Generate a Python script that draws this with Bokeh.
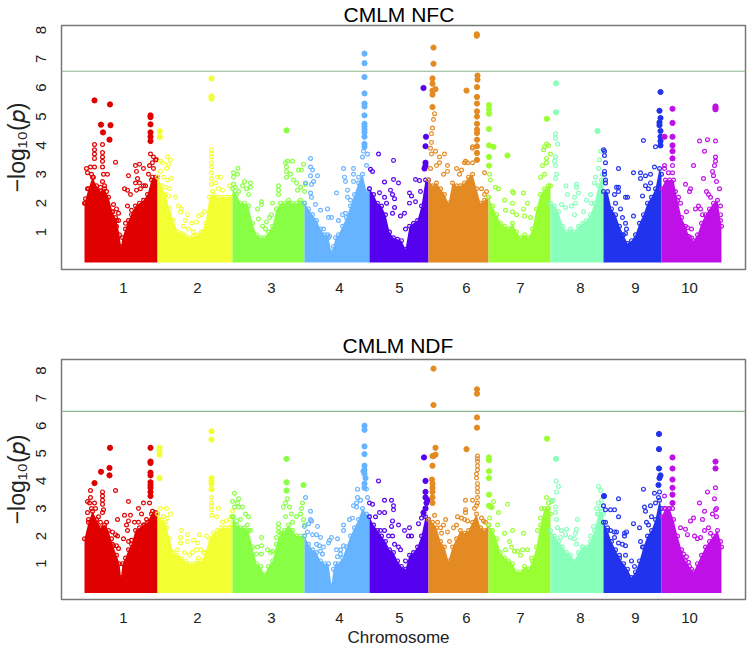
from bokeh.plotting import figure
from bokeh.layouts import column
from bokeh.models import Span, FixedTicker, Range1d, Title
from bokeh.embed import file_html
from bokeh.resources import INLINE

CHR_LABELS = ["1", "2", "3", "4", "5", "6", "7", "8", "9", "10"]
CHR_LABEL_POS = [123, 197, 271, 339, 399, 466, 520, 580, 635, 689]
CHR_COLORS = ["#E00000", "#F2FF33", "#88FF44", "#66B3FF", "#5500EE",
              "#E38A22", "#99FF33", "#88FFBB", "#2233EE", "#C010E8"]
THRESHOLD_NFC = 6.57
THRESHOLD_NDF = 6.52

# Position of the samples of the dense lower body of each chromosome
ENV_POS_1 = [84, 88, 92, 96, 100, 104, 108, 112, 116, 119, 120.5, 122, 125, 128, 131, 135, 139, 143, 147, 151, 155, 157]
ENV_POS_2 = [157, 161, 165, 169, 173, 177, 181, 185, 189, 193, 197, 201, 205, 209, 213, 217, 221, 225, 229, 232]
ENV_POS_3 = [232, 236, 240, 244, 248, 252, 256, 260, 264, 268, 272, 276, 280, 284, 288, 292, 296, 300, 304]
ENV_POS_4 = [304, 308, 312, 316, 320, 324, 328, 331, 333, 335, 338, 342, 346, 350, 354, 358, 362, 366, 369]
ENV_POS_5 = [369, 373, 377, 381, 385, 389, 393, 397, 401, 405, 409, 413, 417, 421, 425, 428]
ENV_POS_6 = [428, 432, 436, 440, 444, 448, 452, 456, 460, 464, 468, 472, 476, 480, 484, 488]
ENV_POS_7 = [488, 492, 496, 500, 504, 508, 512, 516, 520, 524, 528, 532, 536, 540, 544, 548, 550]
ENV_POS_8 = [550, 554, 558, 562, 566, 570, 574, 578, 582, 586, 590, 594, 598, 601, 603]
ENV_POS_9 = [603, 607, 611, 615, 619, 623, 627, 631, 635, 639, 643, 647, 651, 655, 659, 661]
ENV_POS_10 = [661, 665, 669, 673, 677, 681, 685, 689, 693, 697, 701, 705, 709, 713, 717, 720, 721]

# Upper limit of the dense body, panel NFC
NFC_ENV_1 = [2.0, 2.5, 2.9, 2.6, 2.4, 2.5, 2.2, 1.7, 1.4, 0.9, 0.5, 0.8, 1.1, 1.4, 1.6, 1.9, 2.0, 2.1, 2.3, 2.8, 2.9, 2.9]
NFC_ENV_2 = [2.9, 2.6, 2.3, 1.8, 1.4, 1.0, .95, .85, .8, .85, .9, 1.0, 1.3, 2.2, 2.3, 2.2, 2.2, 2.2, 2.2, 2.2]
NFC_ENV_3 = [2.5, 2.3, 2.0, 2.0, 1.9, 1.3, .9, .8, .8, 1.0, 1.2, 1.8, 2.0, 2.0, 2.1, 2.0, 2.0, 2.1, 2.0]
NFC_ENV_4 = [2.0, 1.8, 1.6, 1.4, 1.1, .9, .8, .3, .5, .8, .9, 1.2, 1.5, 1.9, 2.3, 2.7, 3.0, 2.4, 2.5]
NFC_ENV_5 = [2.5, 2.3, 2.0, 1.9, 1.6, 1.0, .8, .75, .7, .4, 1.2, 1.3, 1.4, 1.9, 2.8, 2.8]
NFC_ENV_6 = [2.8, 2.6, 2.7, 2.5, 2.3, 2.0, 2.7, 2.6, 2.6, 2.7, 2.9, 3.0, 2.5, 2.0, 2.1, 2.2]
NFC_ENV_7 = [2.2, 1.9, 1.6, 1.3, 1.2, 1.1, 1.3, 1.0, .8, .9, .8, 1.1, 1.8, 2.3, 2.5, 2.6, 2.6]
NFC_ENV_8 = [2.0, 1.9, 1.7, 1.2, 1.0, 1.1, 1.0, 1.2, 1.3, 1.4, 1.6, 2.0, 2.6, 2.8, 2.8]
NFC_ENV_9 = [2.4, 2.4, 1.8, 1.6, 1.2, .9, .6, .7, .9, 1.3, 1.6, 2.0, 2.2, 2.5, 3.2, 3.0]
NFC_ENV_10 = [2.5, 2.8, 2.8, 2.8, 2.1, 1.5, 1.2, .8, .7, .9, 1.3, 1.6, 1.8, 2.0, 2.1, 1.4, 1.2]

# Upper limit of the dense body, panel NDF
NDF_ENV_1 = [1.9, 2.5, 2.9, 2.6, 2.3, 2.4, 2.2, 1.7, 1.3, 1.0, .5, 1.0, 1.2, 1.5, 1.7, 2.2, 2.3, 2.4, 2.5, 2.8, 2.8, 2.8]
NDF_ENV_2 = [2.8, 2.6, 2.5, 1.9, 1.4, 1.3, 1.2, 1.1, 1.0, 1.0, 1.1, 1.1, 1.4, 1.9, 2.1, 2.2, 2.3, 2.3, 2.3, 2.4]
NDF_ENV_3 = [2.7, 2.4, 2.3, 2.3, 2.2, 1.6, 1.0, .9, .6, .9, 1.1, 1.7, 2.1, 2.2, 2.4, 2.2, 2.0, 2.0, 2.0]
NDF_ENV_4 = [2.0, 1.7, 1.5, 1.4, 1.1, 1.0, 1.0, .2, .8, 1.0, 1.0, 1.2, 1.6, 2.0, 2.3, 2.6, 3.0, 2.8, 2.7]
NDF_ENV_5 = [2.7, 2.4, 2.2, 2.0, 1.8, 1.5, 1.4, 1.1, .9, .8, 1.3, 1.4, 1.6, 2.0, 2.7, 2.6]
NDF_ENV_6 = [2.6, 2.5, 2.3, 1.8, 1.6, 1.1, 1.6, 1.9, 2.2, 2.1, 2.2, 2.5, 2.8, 2.3, 2.2, 2.4]
NDF_ENV_7 = [2.4, 2.2, 1.9, 1.4, 1.2, 1.1, 1.0, .7, .7, .9, .8, 1.1, 1.6, 2.4, 3.0, 3.0, 2.8]
NDF_ENV_8 = [2.2, 2.0, 1.8, 1.6, 1.4, 1.3, 1.1, 1.4, 1.6, 1.6, 1.8, 2.2, 2.8, 2.9, 2.8]
NDF_ENV_9 = [2.5, 2.2, 1.8, 1.5, 1.2, 1.0, .8, .5, .7, 1.1, 1.6, 2.0, 2.2, 2.6, 3.3, 3.0]
NDF_ENV_10 = [2.7, 3.0, 3.0, 2.6, 2.0, 1.5, 1.1, .9, .7, 1.0, 1.3, 1.6, 1.8, 2.0, 2.2, 1.8, 1.6]

# Separate open markers (position, -log10 p), panel NFC
NFC_OPEN_1 = [(94, 4.03), (102, 4.03), (94, 3.85), (94, 3.7), (94, 3.55), (102, 3.75), (102, 3.6), (102, 3.45), (115, 3.42), (102, 3.25), (86, 3.2), (90, 3.25), (94, 3.25), (87, 3.05), (91, 3.0), (93, 2.9), (103, 3.0), (107, 3.0), (102, 2.75), (100, 2.55), (104, 2.6), (87, 2.5), (85, 2.15), (85, 2.0), (90, 2.3), (106, 2.4), (128, 2.95), (124, 2.5), (127, 2.45), (130, 2.3), (135, 3.3), (139, 3.35), (136, 3.1), (143, 3.2), (137, 2.85), (139, 2.7), (135, 2.7), (136, 2.45), (143, 2.6), (140, 2.5), (145, 2.6), (150, 3.7), (153, 3.6), (155, 3.5), (152, 3.4), (156, 3.5), (149, 3.3), (153, 3.2), (148, 3.0), (152, 2.9), (113, 1.95), (116, 1.8), (118, 1.65), (112, 1.7), (115, 1.5), (118, 1.4), (116, 1.2), (125, 1.3), (127, 1.9), (131, 1.75), (133, 1.6)]
NFC_OPEN_2 = [(160, 3.45), (162, 3.4), (167, 3.6), (170, 3.5), (168, 3.35), (166, 3.2), (160, 3.1), (163, 2.9), (167, 2.8), (171, 2.85), (165, 2.55), (169, 2.5), (168, 2.25), (175, 2.2), (178, 1.9), (181, 1.8), (180, 1.7), (187, 1.6), (185, 1.4), (191, 1.3), (196, 1.35), (198, 1.55), (201, 1.6), (204, 1.7), (183, 1.2), (188, 1.1), (193, 1.0), (190, .7), (183, .9), (211, 3.85), (211, 3.7), (211, 3.6), (211, 3.4), (211, 3.25), (211, 3.05), (211, 2.85), (211, 2.65), (217, 2.9), (220, 2.9), (215, 2.7), (218, 2.5), (222, 2.45), (229, 2.6), (212, 2.4)]
NFC_OPEN_3 = [(233, 3.05), (233, 2.9), (237, 3.0), (237.5, 3.2), (233, 2.65), (235, 2.55), (238, 2.4), (244, 2.75), (242, 2.6), (250, 2.7), (250, 2.55), (246, 2.5), (248, 2.3), (257, 1.8), (261, 2.05), (261, 1.95), (258, 1.45), (262, 1.2), (266, 1.35), (269, 1.5), (271, 1.6), (265, 1.1), (272, 2.0), (278, 2.6), (278, 2.45), (278, 2.3), (285, 3.4), (287, 3.45), (292, 3.45), (286, 3.25), (286, 3.1), (290, 3.0), (286, 2.9), (293, 2.8), (296, 2.7), (300, 2.55), (298, 3.15), (301, 3.15), (303, 3.35), (305, 2.65), (304, 2.4), (297, 2.45)]
NFC_OPEN_4 = [(310, 3.55), (310, 3.25), (312, 3.15), (310, 2.95), (317, 2.95), (313, 2.75), (311, 2.65), (305, 2.7), (310, 2.35), (311, 2.2), (315, 1.95), (320, 1.75), (327, 1.8), (328, 1.5), (331, 1.5), (323, 1.1), (327, .9), (329, .85), (336, 2.35), (343, 3.2), (344, 2.9), (345, 2.75), (347, 2.45), (347, 2.2), (353, 3.2), (353, 3.0), (353, 2.75), (350, 2.1), (342, 1.6), (338, 1.4), (345, 1.65), (358, 2.9), (362, 3.6), (367, 3.7), (363, 3.8), (366, 3.3)]
NFC_OPEN_5 = [(378, 3.7), (393, 3.48), (370, 3.17), (372, 3.1), (384, 2.73), (393, 2.82), (398, 2.7), (390, 2.45), (379, 2.36), (392, 2.3), (384, 2.2), (394, 2.15), (386, 2.0), (394, 1.85), (392, 1.65), (400, 1.55), (404, 1.65), (409, 2.35), (411, 2.25), (415, 2.82), (419, 2.78), (420, 2.4), (409, 2.0), (415, 2.05), (405, 1.1), (394, .63)]
NFC_OPEN_6 = [(434, 5.1), (433, 4.9), (432, 4.6), (431, 4.4), (431, 4.1), (430, 3.9), (431, 3.7), (435, 3.8), (439, 3.6), (444, 3.7), (439, 3.4), (447, 3.3), (430, 3.2), (436, 3.3), (447, 3.1), (443, 3.0), (456, 3.2), (461, 3.15), (464, 3.4), (465, 3.45), (459, 3.0), (472, 3.4), (472, 3.9), (472, 3.95), (467, 3.4), (484, 3.05), (486, 2.4), (481, 2.5), (484, 2.3)]
NFC_OPEN_7 = [(489, 3.0), (490, 2.8), (495, 2.55), (498, 2.5), (504, 2.1), (512, 2.4), (513, 2.35), (523, 2.35), (527, 2.0), (512, 2.0), (505, 1.75), (512, 1.7), (523, 1.8), (516, 1.6), (524, 1.55), (530, 1.5), (540, 2.9), (544, 3.0), (542, 3.3), (546, 3.4), (546, 3.55), (550, 3.7), (543, 3.85), (548, 4.0), (544, 3.95), (546, 4.05)]
NFC_OPEN_8 = [(555, 4.4), (555, 4.25), (557, 4.05), (555, 3.6), (554, 3.45), (555, 3.3), (556, 3.0), (555, 2.85), (565.5, 2.6), (576, 2.65), (576, 2.55), (567, 2.3), (578, 2.35), (574, 2.2), (575, 2.0), (571, 1.9), (561, 1.95), (565, 1.85), (574, 1.6), (583, 1.7), (590, 2.3), (594, 2.7), (595, 2.9), (598, 3.2), (599, 3.5), (600, 3.8), (591, 2.0), (586, 2.1), (602, 3.0)]
NFC_OPEN_9 = [(603, 3.85), (604, 3.8), (604, 3.65), (605, 3.4), (604, 3.1), (604, 3.0), (605, 2.8), (605, 2.7), (618, 3.2), (618, 2.55), (618, 2.4), (616, 2.55), (614, 2.3), (615, 2.0), (620, 1.8), (622, 1.5), (625, 1.3), (626, 1.1), (625, .95), (633, 3.05), (625, 2.2), (627, 2.2), (633, 1.55), (640, 3.05), (640, 2.85), (645, 2.95), (650, 3.0), (645, 2.6), (650, 2.7), (642, 2.25), (648, 2.5), (654, 3.25), (655, 3.95), (643, 4.17)]
NFC_OPEN_10 = [(699, 4.15), (707, 4.2), (715, 4.15), (704, 3.8), (693, 3.3), (715, 3.6), (715, 3.45), (714, 3.3), (712, 3.1), (713, 2.95), (703, 2.85), (716, 2.75), (719, 2.5), (685, 2.65), (690, 2.5), (689, 2.4), (706, 2.4), (708, 2.3), (710, 2.2), (675, 2.4), (678, 2.2), (680, 2.0), (686, 1.7), (695, 1.8), (698, 1.9), (700, 1.8), (702, 1.6), (687, 1.15), (691, 1.1), (688, .85), (691, .8), (720, 1.6), (720, 1.9), (664, 3.3), (672, 3.3), (672, 3.05), (664, 3.2), (668, 3.05)]

# Separate filled markers, panel NFC
NFC_TOP_1 = [(94, 5.56), (109.5, 5.42), (150, 5.04), (150, 4.98), (100.5, 4.72), (110, 4.7), (102.5, 4.45), (109, 4.2), (150, 4.73), (150, 4.45), (150, 4.3), (150, 4.15)]
NFC_TOP_2 = [(159.3, 4.49), (159.3, 4.29), (211, 6.32), (211, 5.7), (211, 5.62)]
NFC_TOP_3 = [(286, 4.52)]
NFC_TOP_4 = [(364, 7.18), (364, 6.85), (364, 6.37), (364, 5.8), (364, 5.45), (364, 5.35), (364, 5.04), (364, 4.75), (364, 4.65), (364, 4.55), (364, 4.45), (364, 4.3), (364, 4.05), (364, 3.95)]
NFC_TOP_5 = [(423, 5.99), (425.5, 4.3), (425, 3.97), (425, 3.4), (425, 3.3), (424, 3.2)]
NFC_TOP_6 = [(433, 7.39), (433, 6.83), (432, 6.32), (432, 6.14), (435, 5.95), (432, 5.9), (432, 5.76), (432, 5.33), (466, 5.9), (476.3, 7.85), (476.3, 7.8), (477, 6.42), (477, 6.28), (476.5, 6.02), (476.5, 5.68), (476.5, 5.45), (476.5, 5.18), (476.5, 5.0), (476.5, 4.75), (476.5, 4.55), (476.5, 4.43), (476.5, 4.2), (476.5, 3.97), (476.5, 3.74), (476.5, 3.5)]
NFC_TOP_7 = [(488.5, 5.4), (488.5, 5.25), (488.5, 5.1), (488.5, 4.57), (488.5, 4.0), (493, 3.95), (488.5, 3.6), (488.5, 3.3), (507, 3.65), (546.3, 4.92)]
NFC_TOP_8 = [(555.5, 6.15), (555.5, 5.15), (597, 4.5)]
NFC_TOP_9 = [(660, 5.85), (659, 5.2), (660, 4.95), (659, 4.8), (659, 4.7), (660, 4.5), (660, 4.3), (660, 4.15), (660, 4.0)]
NFC_TOP_10 = [(672, 5.27), (672, 4.78), (664, 4.3), (672, 4.3), (672, 4.0), (672, 3.8), (672, 3.55), (715, 5.35), (715, 5.3), (715, 5.25)]

# Separate open markers, panel NDF
NDF_OPEN_1 = [(90, 3.65), (90, 3.4), (102, 3.6), (102, 3.45), (102, 3.3), (102, 3.15), (115, 3.65), (87, 3.25), (89, 3.2), (94, 3.2), (91, 3.0), (95, 3.0), (103, 2.95), (102, 2.85), (87, 2.85), (88, 2.6), (117, 2.6), (128, 3.25), (143, 3.2), (138, 3.0), (141, 2.8), (124, 2.75), (130, 2.75), (128, 2.55), (126, 2.4), (127, 2.2), (98, 2.7), (100, 2.5), (106, 2.5), (104, 2.3), (112, 2.15), (115, 2.05), (117, 2.0), (111, 1.9), (113, 1.65), (116, 1.65), (118, 1.55), (123, 1.9), (128, 1.8), (131, 1.85), (134, 2.5), (138, 2.5), (144, 2.4), (146, 2.6), (149, 3.2), (152, 2.9), (155, 2.85)]
NDF_OPEN_2 = [(160, 3.0), (166, 3.0), (170, 2.8), (163, 2.7), (167, 2.65), (166, 2.3), (181, 2.2), (180, 1.95), (187, 2.05), (180, 1.75), (187, 1.8), (193, 1.85), (199, 2.05), (197, 1.75), (206, 2.0), (192, 1.4), (196, 1.5), (200, 1.5), (189, 1.3), (203, 1.4), (198, 1.2), (184, 1.4), (177, 1.5), (211, 3.4), (211, 3.2), (211, 3.1), (211, 2.95), (211, 2.75), (218, 3.0), (216, 2.7), (222, 2.5), (226, 2.55), (229, 2.6), (231, 2.7), (232, 2.9)]
NDF_OPEN_3 = [(234, 3.55), (238, 3.35), (237, 3.2), (232, 3.25), (234, 3.05), (238, 3.05), (242, 3.05), (245, 2.8), (248, 2.7), (233, 2.7), (236, 2.55), (240, 2.6), (247, 2.4), (250, 2.2), (261, 1.65), (261, 1.95), (257, 1.6), (256, 1.35), (261, 1.35), (267, 1.5), (270, 1.4), (272, 1.45), (278, 2.45), (278, 2.3), (278, 2.15), (276, 1.95), (287, 3.35), (285, 3.2), (283, 3.05), (289, 3.05), (291, 2.8), (285, 2.7), (296, 2.7), (302, 3.2), (301, 3.0), (300, 2.8), (303, 2.6), (304, 2.4), (292, 2.5)]
NDF_OPEN_4 = [(305, 3.4), (310, 2.9), (310, 2.6), (311, 2.55), (308, 2.45), (304, 2.35), (317, 2.35), (307, 2.15), (312, 2.05), (316, 2.05), (320, 1.95), (316, 1.7), (319, 1.65), (323, 1.6), (322, 1.35), (320, 1.45), (329, 1.85), (331, 1.95), (328, 1.75), (337, 1.9), (340, 1.5), (336, 1.5), (343, 1.65), (340, 1.35), (337, 1.25), (343, 2.4), (343, 2.2), (349, 2.6), (352, 2.65), (353, 3.1), (356, 3.05), (357, 3.4), (357, 3.7), (360, 3.3), (356, 3.2), (367, 3.4), (366, 3.7)]
NDF_OPEN_5 = [(378, 4.0), (369, 3.2), (372, 3.15), (384, 3.3), (391, 3.3), (393, 3.1), (393, 2.95), (379, 2.85), (384, 2.85), (375, 2.7), (392, 2.55), (398, 2.4), (391, 2.35), (384, 2.2), (392, 2.0), (388, 2.0), (380, 2.2), (404, 2.2), (409, 2.3), (408, 2.0), (411, 2.0), (418, 2.45), (421, 2.65), (423, 2.75), (394, 1.7), (398, 1.6), (400, 1.5), (405, 1.1)]
NDF_OPEN_6 = [(477, 4.9), (477, 4.8), (477, 4.7), (477, 4.55), (477, 4.4), (476, 4.25), (476, 4.1), (477, 3.9), (477, 3.75), (477, 3.6), (477, 3.4), (477, 3.2), (465, 3.3), (472, 3.3), (476, 3.1), (474, 3.0), (465, 2.95), (465, 2.85), (457, 2.7), (461, 2.65), (464, 2.6), (467, 2.55), (481, 2.65), (483, 2.55), (485, 2.5), (445, 2.6), (443, 2.4), (447, 2.15), (449, 1.8), (441, 2.1), (437, 2.5), (434, 2.75), (440, 2.3), (453, 2.3), (456, 2.4)]
NDF_OPEN_7 = [(493, 3.25), (507, 3.15), (498, 2.85), (489, 2.65), (497, 2.4), (504, 2.1), (512, 2.2), (523, 2.1), (509, 1.8), (511, 1.6), (505, 1.5), (514, 1.45), (517, 1.45), (520, 1.3), (522, 1.5), (527, 1.5), (531, 1.2), (537, 2.2), (541, 2.0), (540, 2.65), (541, 3.0), (546, 3.4), (551, 3.25), (548, 3.2), (547, 3.0)]
NDF_OPEN_8 = [(555.5, 4.0), (558, 3.8), (556, 3.6), (553, 3.3), (551, 3.3), (555, 3.05), (555, 2.85), (556, 2.6), (557, 2.3), (561, 2.2), (566, 2.25), (565, 2.05), (560, 1.95), (570, 1.95), (577, 2.6), (576, 2.25), (575, 2.1), (574, 1.9), (576, 1.7), (582, 1.6), (590, 2.0), (593, 2.35), (598, 3.8), (600, 3.65), (596, 3.0), (598, 3.2), (601, 3.3), (597, 2.8), (600, 3.0), (603, 3.1)]
NDF_OPEN_9 = [(603, 3.1), (605, 2.95), (610, 2.95), (614, 2.95), (618, 3.35), (618, 2.7), (605, 2.5), (607, 2.3), (610, 2.2), (614, 2.15), (616, 2.15), (624, 2.1), (626, 2.15), (624, 2.0), (614, 1.95), (618, 1.75), (622, 1.7), (625, 1.65), (619, 1.3), (625, 1.3), (633, 2.45), (631, 1.1), (634, .9), (640, 1.8), (639, 2.3), (642, 1.6), (643, 3.7), (644, 3.05), (645, 2.9), (650, 3.1), (655, 3.2), (654, 3.55), (646, 2.5), (648, 2.4), (651, 2.7), (658, 3.4), (659, 3.6)]
NDF_OPEN_10 = [(715, 3.75), (707, 3.6), (699, 3.2), (714, 3.35), (716, 3.0), (704, 2.9), (715, 2.95), (712, 2.8), (716, 2.7), (702, 2.6), (690, 2.55), (693, 2.65), (685, 2.25), (680, 2.3), (687, 2.05), (694, 2.0), (697, 1.9), (700, 1.95), (704, 2.2), (708, 2.3), (710, 2.1), (683, 1.35), (686, 1.25), (688, 1.05), (691, .8), (664, 3.45), (672, 3.0), (668, 3.0), (664, 3.0)]

# Separate filled markers, panel NDF
NDF_TOP_1 = [(109.5, 5.2), (150, 5.2), (109, 4.47), (109, 4.2), (100.5, 4.33), (94, 3.92), (150, 4.7), (150, 4.65), (150, 4.3), (150, 4.2), (150, 3.95), (150, 3.85), (150, 3.75), (150, 3.6), (150, 3.45)]
NDF_TOP_2 = [(159, 5.2), (159, 5.1), (159, 4.95), (159, 4.1), (211, 5.8), (211, 5.5), (211, 4.1), (211, 4.0), (211, 3.9), (211, 3.7)]
NDF_TOP_3 = [(286, 4.8), (286, 3.95), (286, 3.65), (303, 3.85)]
NDF_TOP_4 = [(364, 6.0), (364, 5.85), (364, 5.25), (364, 4.97), (364, 4.55), (364, 4.4), (363, 4.35), (364, 4.25), (365, 4.1), (364, 3.9), (364, 3.75)]
NDF_TOP_5 = [(423.5, 4.85), (425, 4.0), (425, 3.6), (425, 3.4), (426, 3.2), (425, 3.0), (423, 2.85), (427, 3.3)]
NDF_TOP_6 = [(433, 8.07), (433, 6.75), (435, 5.2), (433, 4.9), (435, 4.95), (432, 4.9), (432, 4.55), (431.5, 4.05), (432, 3.9), (432, 3.75), (432, 3.6), (432, 3.4), (432, 3.2), (466, 5.15), (476.5, 7.32), (476.5, 7.16), (476.5, 6.3), (476.5, 5.93)]
NDF_TOP_7 = [(488.5, 4.85), (488.5, 4.75), (488.5, 4.35), (488.5, 4.1), (488.5, 3.5), (488.5, 3.1), (491, 3.05), (546.5, 5.53)]
NDF_TOP_8 = [(555.5, 4.8)]
NDF_TOP_9 = [(603.5, 3.45), (658.5, 5.7), (658.5, 5.15), (658.5, 4.45), (660, 4.2), (659, 4.1), (658, 3.85)]
NDF_TOP_10 = [(672, 4.85), (672, 4.45), (672, 4.05), (672, 3.75), (672, 3.5), (672, 3.2), (715, 4.7), (715, 4.45)]

ENV_POS = [ENV_POS_1, ENV_POS_2, ENV_POS_3, ENV_POS_4, ENV_POS_5, ENV_POS_6, ENV_POS_7, ENV_POS_8, ENV_POS_9, ENV_POS_10]
NFC = (
    [NFC_ENV_1, NFC_ENV_2, NFC_ENV_3, NFC_ENV_4, NFC_ENV_5, NFC_ENV_6, NFC_ENV_7, NFC_ENV_8, NFC_ENV_9, NFC_ENV_10],
    [NFC_OPEN_1, NFC_OPEN_2, NFC_OPEN_3, NFC_OPEN_4, NFC_OPEN_5, NFC_OPEN_6, NFC_OPEN_7, NFC_OPEN_8, NFC_OPEN_9, NFC_OPEN_10],
    [NFC_TOP_1, NFC_TOP_2, NFC_TOP_3, NFC_TOP_4, NFC_TOP_5, NFC_TOP_6, NFC_TOP_7, NFC_TOP_8, NFC_TOP_9, NFC_TOP_10],
)
NDF = (
    [NDF_ENV_1, NDF_ENV_2, NDF_ENV_3, NDF_ENV_4, NDF_ENV_5, NDF_ENV_6, NDF_ENV_7, NDF_ENV_8, NDF_ENV_9, NDF_ENV_10],
    [NDF_OPEN_1, NDF_OPEN_2, NDF_OPEN_3, NDF_OPEN_4, NDF_OPEN_5, NDF_OPEN_6, NDF_OPEN_7, NDF_OPEN_8, NDF_OPEN_9, NDF_OPEN_10],
    [NDF_TOP_1, NDF_TOP_2, NDF_TOP_3, NDF_TOP_4, NDF_TOP_5, NDF_TOP_6, NDF_TOP_7, NDF_TOP_8, NDF_TOP_9, NDF_TOP_10],
)

FONT = "Liberation Sans"
Y_LABEL = "\u2212log\u2081\u2080(\U0001D45D)"


def panel(title, data, threshold, y_range, height, top, bottom, xlabel, title_offset, title_standoff):
    p = figure(width=747, height=height, output_backend="svg", toolbar_location=None,
               x_range=Range1d(61, 745), y_range=Range1d(*y_range),
               min_border_left=61, min_border_right=2, min_border_top=top, min_border_bottom=bottom,
               tools="")
    p.background_fill_color = "white"
    p.grid.visible = False
    p.outline_line_color = "#777777"
    p.outline_line_width = 1.5

    p.title.text = title
    p.title.align = "left"
    p.title.offset = title_offset
    p.title.text_font = FONT
    p.title.text_font_size = "21px"
    p.title.text_font_style = "normal"
    p.title.text_color = "black"
    p.title.standoff = title_standoff

    p.xaxis.ticker = FixedTicker(ticks=CHR_LABEL_POS)
    p.xaxis.major_label_overrides = dict(zip(CHR_LABEL_POS, CHR_LABELS))
    p.yaxis.ticker = FixedTicker(ticks=[1, 2, 3, 4, 5, 6, 7, 8])
    p.yaxis.major_label_orientation = "vertical"
    for ax in (p.xaxis, p.yaxis):
        ax.axis_line_color = None
        ax.major_tick_line_color = None
        ax.minor_tick_line_color = None
        ax.major_label_text_font = FONT
        ax.major_label_text_font_size = "15px"
        ax.major_label_text_color = "#222222"
    p.xaxis.major_label_standoff = 7
    p.yaxis.major_label_standoff = 9
    p.yaxis.axis_label = Y_LABEL
    p.yaxis.axis_label_text_font = FONT
    p.yaxis.axis_label_text_font_style = "normal"
    p.yaxis.axis_label_text_font_size = "23px"
    p.yaxis.axis_label_text_color = "#222222"
    p.yaxis.axis_label_standoff = 4
    if xlabel:
        p.add_layout(Title(text=xlabel, align="left", offset=286, text_font=FONT,
                           text_font_size="17px", text_font_style="normal",
                           text_color="#222222", text_line_height=0.9, standoff=0), "below")

    envs, opens, tops = data
    for pos, env, pts, hi, col in zip(ENV_POS, envs, opens, tops, CHR_COLORS, strict=True):
        assert len(pos) == len(env)
        p.varea(x=pos, y1=[-0.06] * len(pos), y2=env, fill_color=col)
        p.scatter(pos, env, size=3.8, fill_color=None, line_color=col, line_width=1.2)
        p.scatter([a for a, b in pts], [b for a, b in pts], size=3.8, fill_color=None,
                  line_color=col, line_width=1.2)
        p.scatter([a for a, b in hi], [b for a, b in hi], size=5.2, color=col)

    p.add_layout(Span(location=threshold, dimension="width", line_color="#8DB58D", line_width=1.2))
    return p


p1 = panel("CMLM NFC", NFC, THRESHOLD_NFC, (-0.30, 8.155), 320, 24, 51, None, 282, 0)
p2 = panel("CMLM NDF", NDF, THRESHOLD_NDF, (-0.30, 8.40), 326, 39, 42, "Chromosome", 281, 5)

page = column(p1, p2, spacing=0)
open("out.html", "w").write(file_html(page, INLINE))
